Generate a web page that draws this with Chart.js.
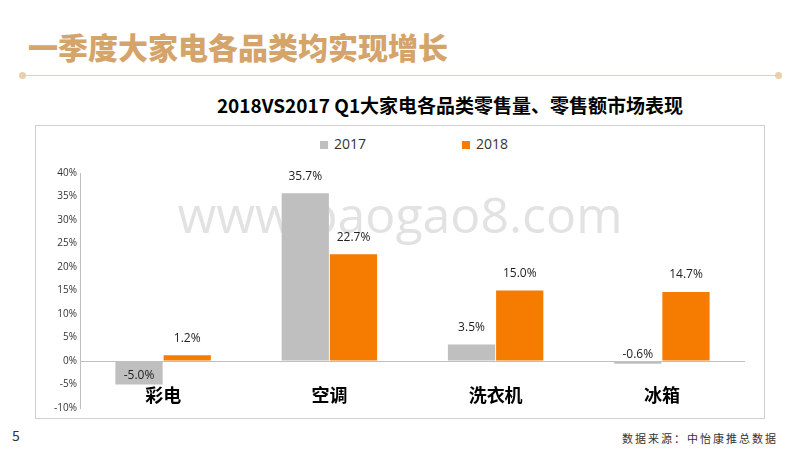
<!DOCTYPE html>
<html><head><meta charset="utf-8">
<script src="https://cdn.jsdelivr.net/npm/chart.js@4"></script>
<style>
body{margin:0;width:800px;height:450px;position:relative;background:#fff;font-family:"Noto Sans CJK SC",sans-serif;overflow:hidden}
.abs{position:absolute}
</style></head><body>
<div class="abs" style="left:28px;top:24px;font-size:30px;font-weight:900;color:#D4A46A;letter-spacing:0px">一季度大家电各品类均实现增长</div>
<div class="abs" style="left:24px;top:75px;width:754px;height:1px;background:#E8CFAE"></div>
<div class="abs" style="left:19px;top:72px;width:7px;height:7px;border-radius:50%;background:#E8CFAE"></div>
<div class="abs" style="left:775px;top:72px;width:7px;height:7px;border-radius:50%;background:#E8CFAE"></div>
<div class="abs" style="left:0;width:800px;top:91px;text-align:center;font-size:19px;font-weight:bold;color:#000;padding-left:100px;box-sizing:border-box">2018VS2017 Q1大家电各品类零售量、零售额市场表现</div>
<div class="abs" style="left:35px;top:125px;width:730px;height:294px;border:1px solid #d0d0d0;box-sizing:border-box"></div>
<div class="abs" style="left:320px;top:134px;font-size:14px;color:#333;font-family:'Open Sans',sans-serif"><span style="display:inline-block;width:8px;height:8px;background:#BFBFBF;margin-right:6px"></span>2017<span style="display:inline-block;width:8px;height:8px;background:#F57C00;margin:0 6px 0 96px"></span>2018</div>
<div class="abs" style="left:0;width:800px;top:180px;text-align:center;font-size:50px;color:rgba(190,190,190,0.45);font-family:'Open Sans',sans-serif">www.baogao8.com</div>
<div class="abs" style="left:12px;top:425px;font-size:14px;color:#333">5</div>
<div class="abs" style="right:22px;top:430px;font-size:11px;color:#333;letter-spacing:2px">数据来源：中怡康推总数据</div>
<canvas id="c" class="abs" style="left:0;top:0"></canvas>
<script>
const categories=['彩电','空调','洗衣机','冰箱'];
const series2017=[-5.0,35.7,3.5,-0.6];
const series2018=[1.2,22.7,15.0,14.7];
const yTicks=[-10,-5,0,5,10,15,20,25,30,35,40];
const cv=document.getElementById('c');cv.width=800;cv.height=450;cv.style.width='800px';cv.style.height='450px';
const labelPlugin={id:'lbl',afterDatasetsDraw(ch){
 const ctx=ch.ctx;ctx.save();ctx.textAlign='center';ctx.textBaseline='middle';
 ctx.font='12px "Open Sans"';ctx.fillStyle='#222';
 ch.data.datasets.forEach((ds,di)=>{ch.getDatasetMeta(di).data.forEach((b,i)=>{const v=ds.data[i];
  ctx.fillText(v.toFixed(1)+'%',b.x,v<0?b.y-9:b.y-17);});});
 ctx.font='bold 18px "Noto Sans CJK SC"';ctx.fillStyle='#000';
 const xs=ch.scales.x,ys=ch.scales.y;
 categories.forEach((c,i)=>ctx.fillText(c,xs.getPixelForValue(i),ys.getPixelForValue(-7.3)));
 ctx.restore();}};
new Chart(cv,{type:'bar',data:{labels:categories,datasets:[
 {label:'2017',data:series2017,backgroundColor:'#BFBFBF'},
 {label:'2018',data:series2018,backgroundColor:'#F57C00'}]},
 options:{responsive:false,animation:false,devicePixelRatio:1,
 layout:{padding:{left:35,top:173,right:55,bottom:34}},
 datasets:{bar:{categoryPercentage:0.58,barPercentage:0.98}},
 plugins:{legend:{display:false},tooltip:{enabled:false}},
 scales:{x:{ticks:{display:false},grid:{display:false},border:{display:false}},
 y:{min:-10,max:40,afterBuildTicks(s){s.ticks=yTicks.map(v=>({value:v}));},afterFit(s){s.width=45;},
  ticks:{callback:v=>v+'%',font:{size:10,family:'Open Sans'},color:'#333'},
  grid:{color:c=>c.tick&&c.tick.value===0?'#BFBFBF':'transparent',drawTicks:false},
  border:{display:true,color:'#BFBFBF'}}}},plugins:[labelPlugin]});
</script></body></html>
